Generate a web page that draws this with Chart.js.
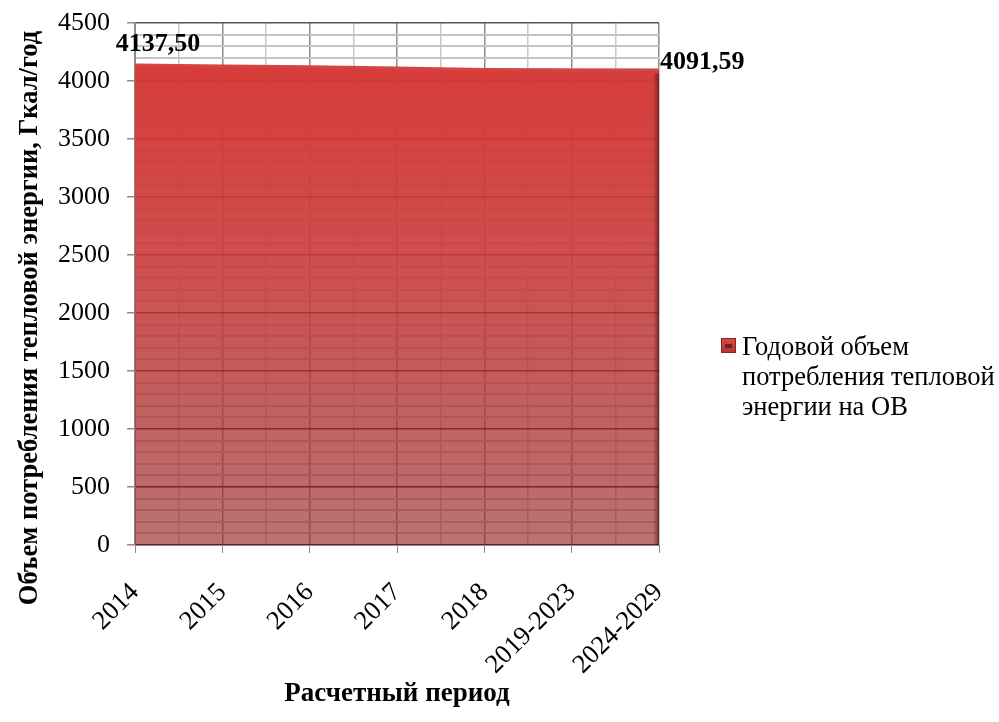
<!DOCTYPE html>
<html>
<head>
<meta charset="utf-8">
<script src="https://cdn.jsdelivr.net/npm/chart.js@4"></script>
<style>
html,body{margin:0;padding:0;background:#fff;}
#wrap{width:999px;height:722px;position:relative;}
</style>
</head>
<body>
<div id="wrap"><canvas id="c" width="999" height="722"></canvas></div>
<script>
const categories = ['2014','2015','2016','2017','2018','2019-2023','2024-2029'];
const seriesName = 'Годовой объем потребления тепловой энергии на ОВ';
const seriesValues = [4137.50, 4130, 4122, 4112, 4100, 4095, 4091.59];
const labeledPoints = [0, 6];
const yTitle = 'Объем потребления тепловой энергии, Гкал/год';
const xTitle = 'Расчетный период';
const yMin = 0, yMax = 4500, yMajor = 500, yMinor = 100;

const FONT = '"Liberation Serif", "Times New Roman", serif';

function fmt(v){ return v.toFixed(2).replace('.', ','); }

const dataLabelPlugin = {
  id: 'dataLabels',
  afterDatasetsDraw(chart){
    const ctx = chart.ctx;
    const meta = chart.getDatasetMeta(0);
    const yScale = chart.scales.y;
    ctx.save();
    // 3D shadow along the right edge of the area
    const last = meta.data[meta.data.length - 1];
    const g = ctx.createLinearGradient(last.x - 6, 0, last.x, 0);
    g.addColorStop(0, 'rgba(60,10,10,0)');
    g.addColorStop(1, 'rgba(60,10,10,0.55)');
    ctx.fillStyle = g;
    ctx.fillRect(last.x - 6, last.y + 3, 6, yScale.getPixelForValue(yMin) - last.y - 3);

    ctx.font = 'bold 26px ' + FONT;
    ctx.fillStyle = '#000';
    ctx.textBaseline = 'middle';
    labeledPoints.forEach(i => {
      const p = meta.data[i];
      const txt = fmt(seriesValues[i]);
      if (i === 0) {
        ctx.textAlign = 'center';
        ctx.fillText(txt, p.x + 23, p.y - 21);
      } else {
        ctx.textAlign = 'left';
        ctx.fillText(txt, p.x + 1, p.y - 8);
      }
    });
    ctx.restore();
  }
};

const titlesAndLegendPlugin = {
  id: 'sideLegend',
  afterDraw(chart){
    const ctx = chart.ctx;
    const area = chart.chartArea;
    ctx.save();
    // y axis title
    ctx.font = 'bold 26.5px ' + FONT;
    ctx.fillStyle = '#000';
    ctx.textAlign = 'center';
    ctx.textBaseline = 'middle';
    ctx.translate(30, 318);
    ctx.rotate(-Math.PI / 2);
    ctx.fillText(yTitle, 0, 0);
    ctx.restore();

    ctx.save();
    const bx = area.right + 62, by = 338;
    const g = ctx.createLinearGradient(bx, by, bx, by + 15);
    g.addColorStop(0, '#d84a48');
    g.addColorStop(1, '#b03432');
    ctx.fillStyle = g;
    ctx.fillRect(bx, by, 15, 15);
    ctx.strokeStyle = '#8a2220';
    ctx.lineWidth = 1;
    ctx.strokeRect(bx + 0.5, by + 0.5, 14, 14);
    ctx.fillStyle = '#7a1e1c';
    ctx.fillRect(bx + 4, by + 6, 7, 4);
    ctx.font = '26.5px ' + FONT;
    ctx.fillStyle = '#000';
    ctx.textAlign = 'left';
    ctx.textBaseline = 'alphabetic';
    const tx = bx + 21;
    const maxW = chart.width - tx;
    const words = seriesName.split(' ');
    const lines = [];
    let cur = '';
    words.forEach(w => {
      const t = cur ? cur + ' ' + w : w;
      if (ctx.measureText(t).width > maxW && cur) { lines.push(cur); cur = w; }
      else cur = t;
    });
    if (cur) lines.push(cur);
    lines.forEach((l, k) => ctx.fillText(l, tx, 355 + k * 30));
    ctx.restore();
  }
};

const ctx = document.getElementById('c').getContext('2d');
new Chart(ctx, {
  type: 'line',
  data: {
    labels: categories,
    datasets: [{
      label: seriesName,
      data: seriesValues,
      fill: 'origin',
      tension: 0,
      pointRadius: 0,
      borderColor: '#d64442',
      borderWidth: 3,
      backgroundColor: (c) => {
        const a = c.chart.chartArea;
        if (!a) return 'rgba(210,60,58,0.9)';
        const g = c.chart.ctx.createLinearGradient(0, a.top, 0, a.bottom);
        g.addColorStop(0, 'rgba(216,56,54,1)');
        g.addColorStop(0.5, 'rgba(200,62,62,0.9)');
        g.addColorStop(1, 'rgba(150,40,40,0.65)');
        return g;
      }
    }]
  },
  options: {
    responsive: false,
    animation: false,
    events: [],
    layout: { padding: { top: 0, right: 340, left: 0, bottom: 0 } },
    plugins: { legend: { display: false }, tooltip: { enabled: false } },
    scales: {
      x: {
        type: 'category',
        offset: false,
        position: 'bottom',
        grid: { drawOnChartArea: false, tickColor: '#8c8c8c', tickLength: 8 },
        border: { color: '#8c8c8c', width: 1 },
        ticks: { font: { family: FONT, size: 26.5 }, color: '#000', minRotation: 45, maxRotation: 45, padding: 24, autoSkip: false },
        title: { display: true, text: xTitle, font: { family: FONT, size: 27, weight: 'bold' }, color: '#000', padding: { top: 0, bottom: 12 } },
        afterFit(s){ s.height = 177; }
      },
      xm: {
        type: 'linear',
        position: 'bottom',
        min: 0, max: categories.length - 1,
        ticks: { display: false, stepSize: 0.5 },
        border: { display: false },
        grid: {
          drawTicks: false,
          color: (c) => Number.isInteger(c.tick.value) ? '#8c8c8c' : '#c8c8c8',
          lineWidth: 1.5
        },
        afterFit(s){ s.height = 0; }
      },
      y: {
        min: yMin, max: yMax,
        ticks: {
          stepSize: yMinor,
          autoSkip: false,
          font: { family: FONT, size: 26, lineHeight: 0.46 },
          color: '#000',
          padding: 17,
          callback: (v) => (v % yMajor === 0 ? String(v) : '')
        },
        grid: {
          color: (c) => (c.tick.value % yMajor === 0 ? (c.tick.value === yMax ? '#555' : '#2a0808') : '#c4c4c4'),
          lineWidth: (c) => (c.tick.value % yMajor === 0 ? 1.5 : 2),
          tickColor: (c) => (c.tick.value % yMajor === 0 ? '#8c8c8c' : 'rgba(0,0,0,0)'),
          tickLength: 8
        },
        border: { color: '#8c8c8c', width: 1 },
        title: { display: false },
        afterFit(s){ s.width = 135; }
      }
    }
  },
  plugins: [dataLabelPlugin, titlesAndLegendPlugin]
});
</script>
</body>
</html>
